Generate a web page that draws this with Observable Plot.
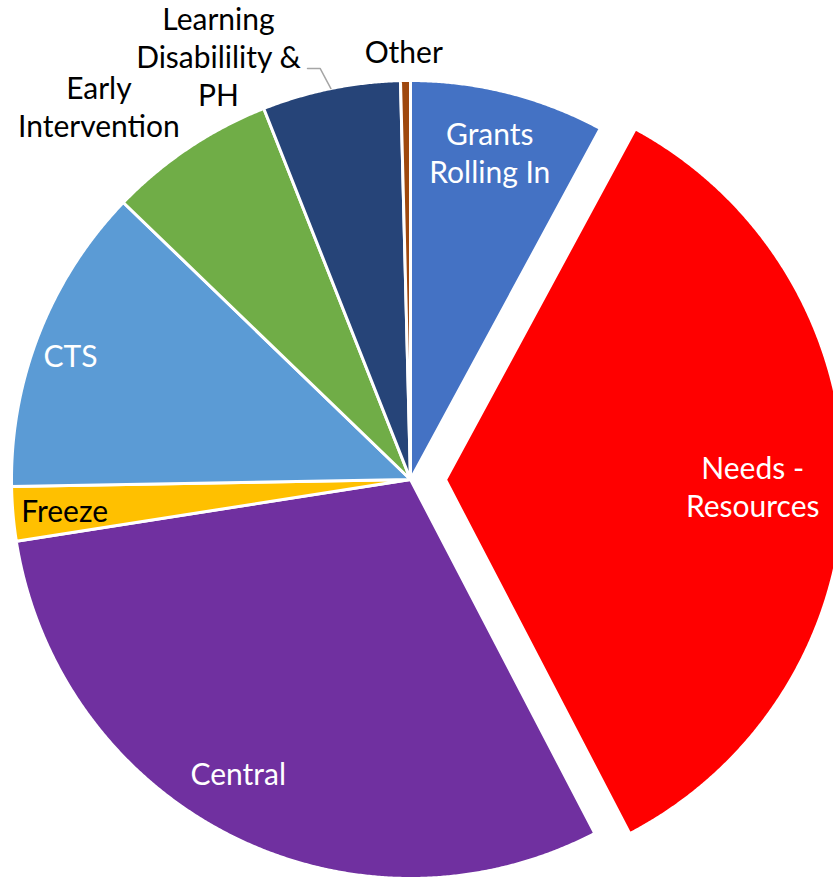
<!DOCTYPE html>
<html>
<head>
<meta charset="utf-8">
<script src="https://cdn.jsdelivr.net/npm/d3@7"></script>
<script src="https://cdn.jsdelivr.net/npm/@observablehq/plot@0.6"></script>
<style>
  html, body { margin: 0; padding: 0; background: #ffffff; }
  #chart { width: 833px; height: 880px; }
</style>
</head>
<body>
<div id="chart"></div>
<script>
// ---- data ----
const categories = ["Grants Rolling In", "Needs - Resources", "Central", "Freeze", "CTS", "Early Intervention", "Learning Disabilility & PH", "Other"];
const values = [7.9, 34.5, 30.2, 2.2, 12.5, 6.8, 5.6, 0.4];
const colors = ["#4472C4", "#FF0000", "#7030A0", "#FFC000", "#5B9BD5", "#70AD47", "#264478", "#9E480E"];
const labelTexts = ["Grants\nRolling In", "Needs -\nResources", "Central", "Freeze", "CTS", "Early\nIntervention", "Learning\nDisabilility &\nPH", "Other"];

// ---- layout ----
const W = 833, H = 880, CX = 410, CY = 479, R = 399;
const explode = {"Needs - Resources": 35 / R};
// label placement: polar angle (deg, clockwise from top) and radius (in pie radii)
const labelLayout = {
  "Grants Rolling In": {a: 13.6, r: 0.845, color: "#ffffff"},
  "Needs - Resources": {a: 91.1, r: 0.77, color: "#ffffff"},
  "Central": {a: 210.4, r: 0.853, color: "#ffffff"},
  "Freeze": {a: 265.0, r: 0.870, color: "#000000"},
  "CTS": {a: 290.2, r: 0.908, color: "#ffffff"},
  "Early Intervention": {a: 320.2, r: 1.22, color: "#000000"},
  "Learning Disabilility & PH": {a: 335.6, r: 1.165, color: "#000000"},
  "Other": {a: 359.1, r: 1.075, color: "#000000"}
};
const leaderFor = "Learning Disabilility & PH";
const leaderElbow = {a: 347.6, r: 1.055, tail: 12.6 / R};

const rad = d => d * Math.PI / 180;
const total = d3.sum(values);
let acc = 0;
const slices = categories.map((name, i) => {
  const a0 = acc / total * 2 * Math.PI;
  acc += values[i];
  const a1 = acc / total * 2 * Math.PI;
  const mid = (a0 + a1) / 2;
  const off = explode[name] || 0;
  return {name, a0, a1, mid, ox: Math.sin(mid) * off, oy: Math.cos(mid) * off};
});

// slice outlines built from the values
const polyPoints = [];
for (const s of slices) {
  polyPoints.push({name: s.name, x: s.ox, y: s.oy});
  const n = Math.max(2, Math.ceil((s.a1 - s.a0) / rad(0.25)));
  for (let k = 0; k <= n; k++) {
    const a = s.a0 + (s.a1 - s.a0) * k / n;
    polyPoints.push({name: s.name, x: s.ox + Math.sin(a), y: s.oy + Math.cos(a)});
  }
  polyPoints.push({name: s.name, x: s.ox, y: s.oy});
}

const labels = slices.map((s, i) => {
  const L = labelLayout[s.name];
  return {
    text: labelTexts[i],
    color: L.color,
    x: s.ox + L.r * Math.sin(rad(L.a)),
    y: s.oy + L.r * Math.cos(rad(L.a))
  };
});

// leader line
const ls = slices.find(s => s.name === leaderFor);
const ex = leaderElbow.r * Math.sin(rad(leaderElbow.a)), ey = leaderElbow.r * Math.cos(rad(leaderElbow.a));
const leader = [
  {x: ex - leaderElbow.tail, y: ey},
  {x: ex, y: ey},
  {x: Math.sin(ls.mid), y: Math.cos(ls.mid)}
];

const plot = Plot.plot({
  width: W,
  height: H,
  margin: 0,
  x: {domain: [-CX / R, (W - CX) / R], range: [0, W], axis: null},
  y: {domain: [-(H - CY) / R, CY / R], range: [H, 0], axis: null},
  color: {domain: categories, range: colors},
  style: {background: "#ffffff", overflow: "visible"},
  marks: [
    Plot.line(polyPoints, {x: "x", y: "y", z: "name", fill: "name", stroke: "#ffffff", strokeWidth: 3, strokeLinejoin: "round", curve: "linear"}),
    Plot.line(leader, {x: "x", y: "y", stroke: "#A6A6A6", strokeWidth: 1.5}),
    Plot.text(labels, {x: "x", y: "y", text: "text", fill: "color", fontSize: 30, fontFamily: "Lato", lineHeight: 1.27, textAnchor: "middle", lineAnchor: "middle"})
  ]
});
document.getElementById("chart").appendChild(plot);
</script>
</body>
</html>
